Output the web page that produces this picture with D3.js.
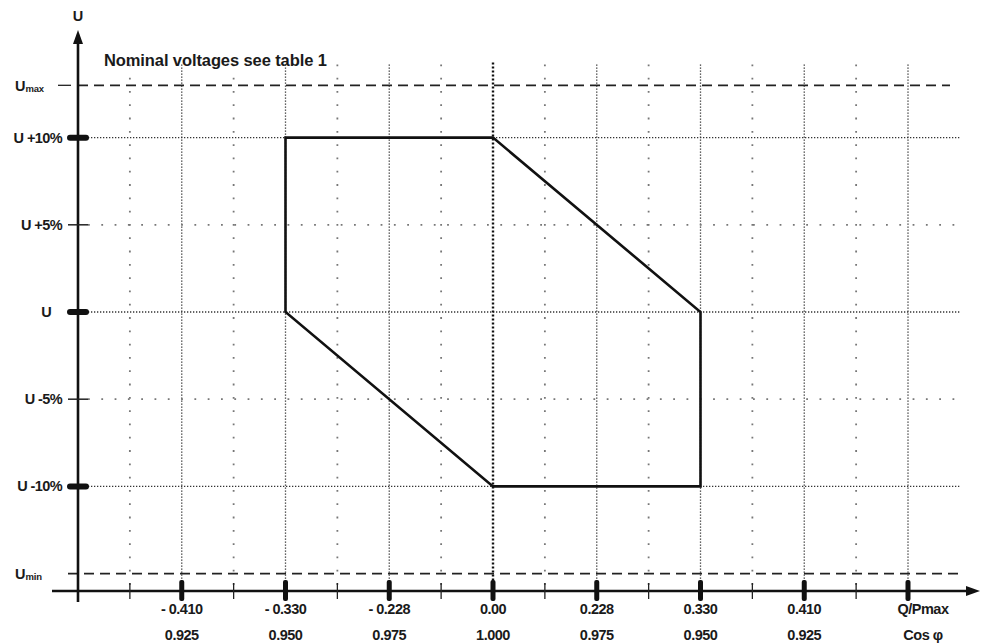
<!DOCTYPE html>
<html>
<head>
<meta charset="utf-8">
<script src="https://cdn.jsdelivr.net/npm/d3@7"></script>
<style>
  body { margin: 0; background: #fff; }
  svg { display: block; font-family: "Liberation Sans", Arial, sans-serif; }
  text { fill: #1a1a1a; }
</style>
</head>
<body>
<svg id="chart"></svg>
<script>
// Q/Pmax tick values (first label row) and matching cos phi (second row)
const qValues = [-0.410, -0.330, -0.228, 0.00, 0.228, 0.330, 0.410];
const qLabels = ["- 0.410", "- 0.330", "- 0.228", "0.00", "0.228", "0.330", "0.410", "Q/Pmax"];
const cosLabels = ["0.925", "0.950", "0.975", "1.000", "0.975", "0.950", "0.925", "Cos \u03c6"];

// voltage levels in % of U
const uLevels = [10, 5, 0, -5, -10];
const uLabels = ["U +10%", "U +5%", "U", "U -5%", "U -10%"];
const uMajor = [10, 0, -10];
const limitNames = ["max", "min"];
const limitValues = [13, -15];

// operating envelope: [Q/Pmax, U %]
const envQ = [-0.330, 0.00, 0.330, 0.330, 0.00, -0.330];
const envU = [10, 10, 0, -10, -10, 0];

const title = "Nominal voltages see table 1";

const W = 981, H = 643;
const svg = d3.select("#chart").attr("width", W).attr("height", H);

// slot scale: 0 = y axis, 1..7 = qValues, 8 = Q/Pmax
const xs = d3.scaleLinear().domain([0, 8]).range([78, 908]);
const qs = d3.scaleLinear().domain(qValues).range(qValues.map((d, i) => xs(i + 1)));
const ys = d3.scaleLinear().domain([-16, 16]).range([591, 33]);

const x0 = xs(0), yAxis = ys(-16);
const gridTop = ys(14.2), gridRight = xs(8.5);

// vertical grid
const vSlots = d3.range(1, 17).map(d => d / 2);
svg.append("g").selectAll("line")
  .data(vSlots.filter(d => d !== 4))
  .join("line")
  .attr("x1", d => xs(d)).attr("x2", d => xs(d))
  .attr("y1", gridTop).attr("y2", yAxis)
  .attr("stroke", d => Number.isInteger(d) ? "#333" : "#777")
  .attr("stroke-width", d => Number.isInteger(d) ? 1.3 : 1.8)
  .attr("stroke-dasharray", d => Number.isInteger(d) ? "1.3,1.7" : "1.8,11.5");

// horizontal grid
svg.append("g").selectAll("line")
  .data(uLevels)
  .join("line")
  .attr("x1", x0 + 10).attr("x2", gridRight)
  .attr("y1", d => ys(d)).attr("y2", d => ys(d))
  .attr("stroke", d => uMajor.includes(d) ? "#333" : "#777")
  .attr("stroke-width", d => uMajor.includes(d) ? 1.3 : 1.8)
  .attr("stroke-dasharray", d => uMajor.includes(d) ? "1.3,1.7" : "1.8,11.5");

// zero line
svg.append("line")
  .attr("x1", qs(0)).attr("x2", qs(0))
  .attr("y1", gridTop - 2).attr("y2", yAxis)
  .attr("stroke", "#111").attr("stroke-width", 2.4)
  .attr("stroke-dasharray", "2,2");

// Umax / Umin dashed limits
svg.append("g").selectAll("line")
  .data(limitValues)
  .join("line")
  .attr("x1", (d, i) => i === 0 ? x0 : 68).attr("x2", (d, i) => i === 0 ? 950 : 960)
  .attr("y1", d => ys(d)).attr("y2", d => ys(d))
  .attr("stroke", "#222").attr("stroke-width", 1.7)
  .attr("stroke-dasharray", "10,6");

// envelope
const line = d3.line().x(d => qs(d[0])).y(d => ys(d[1]));
svg.append("path")
  .attr("d", line(envQ.map((q, i) => [q, envU[i]])) + "Z")
  .attr("fill", "none").attr("stroke", "#111").attr("stroke-width", 2.6)
  .attr("stroke-linejoin", "miter");

// axes
svg.append("line").attr("x1", x0).attr("x2", x0)
  .attr("y1", yAxis + 11).attr("y2", 40)
  .attr("stroke", "#111").attr("stroke-width", 2.6);
svg.append("path").attr("d", `M${x0},30 L${x0 - 5},44 L${x0 + 5},44 Z`).attr("fill", "#111");
svg.append("line").attr("x1", 52).attr("x2", 970)
  .attr("y1", yAxis).attr("y2", yAxis)
  .attr("stroke", "#111").attr("stroke-width", 2.4);
svg.append("path").attr("d", `M980,${yAxis} L966,${yAxis - 5} L966,${yAxis + 5} Z`).attr("fill", "#111");

// x ticks
svg.append("g").selectAll("rect")
  .data(d3.range(1, 9))
  .join("rect")
  .attr("x", d => xs(d) - 2.5).attr("y", yAxis - 11)
  .attr("width", 5).attr("height", 21)
  .attr("rx", 2).attr("fill", "#111");
svg.append("g").selectAll("line")
  .data(d3.range(0.5, 8.5, 1))
  .join("line")
  .attr("x1", d => xs(d)).attr("x2", d => xs(d))
  .attr("y1", yAxis - 8).attr("y2", yAxis + 8)
  .attr("stroke", "#222").attr("stroke-width", 1.3);

// y ticks
svg.append("g").selectAll("rect")
  .data(uMajor)
  .join("rect")
  .attr("x", 67).attr("y", d => ys(d) - 3)
  .attr("width", 22).attr("height", 6)
  .attr("rx", 3).attr("fill", "#111");
svg.append("g").selectAll("line")
  .data(uLevels.filter(d => !uMajor.includes(d)))
  .join("line")
  .attr("x1", 68).attr("x2", 88)
  .attr("y1", d => ys(d)).attr("y2", d => ys(d))
  .attr("stroke", "#222").attr("stroke-width", 1.5);
svg.append("line")
  .attr("x1", 58).attr("x2", 71)
  .attr("y1", ys(limitValues[0])).attr("y2", ys(limitValues[0]))
  .attr("stroke", "#222").attr("stroke-width", 1.3);

// y labels
svg.append("g").selectAll("text")
  .data(uLevels)
  .join("text")
  .attr("x", (d, i) => d === 0 ? 51 : 62)
  .attr("y", d => ys(d) + 5)
  .attr("text-anchor", "end")
  .attr("font-size", 14.5).attr("font-weight", "bold")
  .attr("letter-spacing", -0.6)
  .text((d, i) => uLabels[i]);

const lim = svg.append("g").selectAll("text")
  .data(limitValues)
  .join("text")
  .attr("x", 15)
  .attr("y", (d, i) => ys(d) + (i === 0 ? 6 : 5))
  .attr("font-size", 14.5).attr("font-weight", "bold");
lim.append("tspan").text("U");
lim.append("tspan").attr("font-size", 9.5).attr("dy", 1)
  .attr("letter-spacing", -0.2)
  .text((d, i) => limitNames[i]);

// x labels, two rows
const xl = svg.append("g").selectAll("g")
  .data(d3.range(1, 9))
  .join("g")
  .attr("transform", d => `translate(${xs(d) + (d === 8 ? 15 : 0)},0)`);
xl.append("text")
  .attr("y", yAxis + 23)
  .attr("text-anchor", "middle")
  .attr("font-size", 14.5).attr("font-weight", "bold")
  .attr("letter-spacing", -0.5)
  .text(d => qLabels[d - 1]);
xl.append("text")
  .attr("y", yAxis + 49)
  .attr("text-anchor", "middle")
  .attr("font-size", 14.5).attr("font-weight", "bold")
  .attr("letter-spacing", -0.5)
  .text(d => cosLabels[d - 1]);

// axis name and note
svg.append("text")
  .attr("x", x0).attr("y", 21)
  .attr("text-anchor", "middle")
  .attr("font-size", 14.5).attr("font-weight", "bold")
  .text("U");
svg.append("text")
  .attr("x", 104).attr("y", 66)
  .attr("font-size", 16.5).attr("font-weight", "bold")
  .attr("letter-spacing", -0.1)
  .text(title);
</script>
</body>
</html>
